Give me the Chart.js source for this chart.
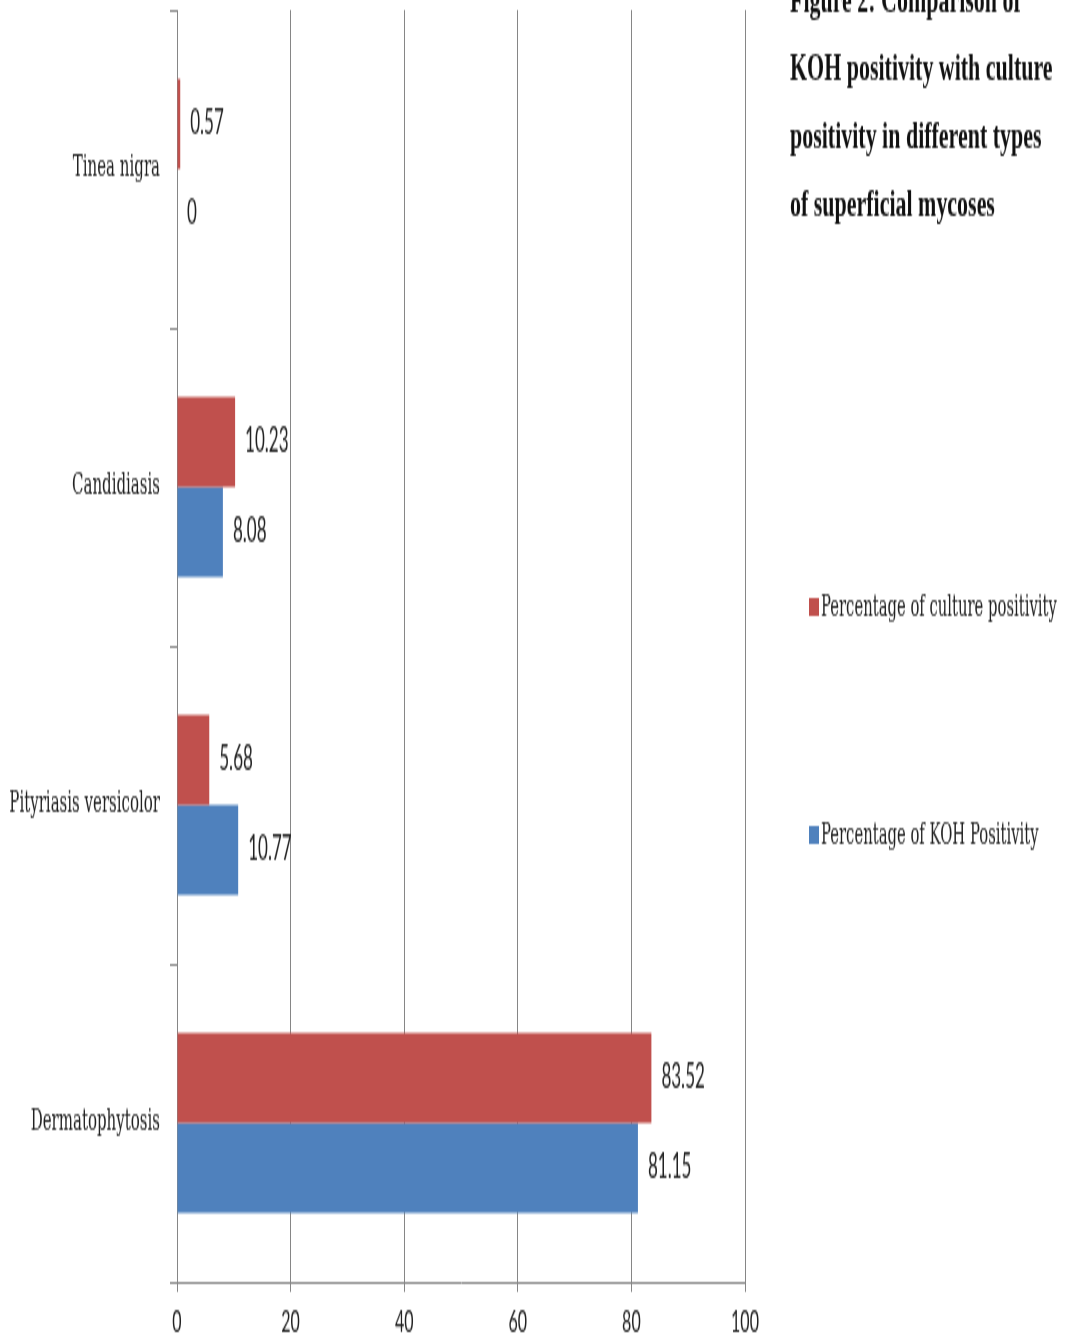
<!DOCTYPE html>
<html lang="en">
<head>
    <meta charset="UTF-8">
    <title>KOH vs culture positivity</title>
    <script src="https://cdn.jsdelivr.net/npm/chart.js"></script>
    <style>
        html, body { margin: 0; padding: 0; background: #fff; }
        body { width: 1065px; height: 1338px; }
        /* the original figure is stretched vertically, so draw at half height and scale up */
        #wrap { width: 1065px; height: 669px; transform: scaleY(2); transform-origin: 0 0; }
    </style>
</head>
<body>
    <div id="wrap"><canvas id="chart" width="1065" height="669"></canvas></div>

    <script>
        // data
        const categories = ['Tinea nigra', 'Candidiasis', 'Pityriasis versicolor', 'Dermatophytosis'];
        const culturePositivity = [0.57, 10.23, 5.68, 83.52];
        const kohPositivity = [0, 8.08, 10.77, 81.15];
        const seriesLabels = ['Percentage of culture positivity', 'Percentage of KOH Positivity'];
        const xTickValues = [0, 20, 40, 60, 80, 100];
        const titleLines = ['Figure 2: Comparison of', 'KOH positivity with culture', 'positivity in different types', 'of superficial mycoses'];

        const RED = '#C0504D';
        const BLUE = '#4F81BD';
        const GRID = '#868686';
        const SERIF = '"Liberation Serif", serif';
        const SLAB = '"DejaVu Serif", serif';
        const SANS = 'Lato, "Liberation Sans", sans-serif';

        // value labels at the end of each bar
        const valueLabels = {
            id: 'valueLabels',
            afterDatasetsDraw(chart) {
                const ctx = chart.ctx;
                ctx.save();
                ctx.font = '17px ' + SANS;
                ctx.fillStyle = '#222';
                ctx.textAlign = 'left';
                ctx.textBaseline = 'middle';
                chart.data.datasets.forEach((ds, i) => {
                    chart.getDatasetMeta(i).data.forEach((bar, j) => {
                        ctx.fillText(String(ds.data[j]), bar.x + 10, bar.y);
                    });
                });
                ctx.restore();
            }
        };

        // title block and legend on the right side
        const sidePanel = {
            id: 'sidePanel',
            afterDraw(chart) {
                const ctx = chart.ctx;
                ctx.save();
                ctx.fillStyle = '#111';
                ctx.textAlign = 'left';
                ctx.textBaseline = 'alphabetic';
                ctx.font = 'bold 18px ' + SERIF;
                titleLines.forEach((line, i) => {
                    ctx.save();
                    ctx.translate(790, 6 + i * 34);
                    ctx.scale(1.22, 1);
                    ctx.fillText(line, 0, 0);
                    ctx.restore();
                });

                const legendY = [303.5, 417.5];
                ctx.font = '14.8px ' + SLAB;
                ctx.textBaseline = 'middle';
                chart.data.datasets.forEach((ds, i) => {
                    ctx.fillStyle = ds.backgroundColor;
                    ctx.fillRect(809, legendY[i] - 4.5, 10, 9);
                    ctx.fillStyle = '#222';
                    ctx.fillText(ds.label, 821, legendY[i] + 0.5);
                });
                ctx.restore();
            }
        };

        new Chart(document.getElementById('chart'), {
            type: 'bar',
            data: {
                labels: categories,
                datasets: [
                    { label: seriesLabels[0], data: culturePositivity, backgroundColor: RED },
                    { label: seriesLabels[1], data: kohPositivity, backgroundColor: BLUE }
                ]
            },
            options: {
                indexAxis: 'y',
                responsive: false,
                animation: false,
                categoryPercentage: 0.566,
                barPercentage: 1,
                layout: { padding: { left: 0, right: 320, top: 5, bottom: 0 } },
                plugins: {
                    legend: { display: false },
                    tooltip: { enabled: false }
                },
                scales: {
                    x: {
                        type: 'linear',
                        min: 0,
                        max: 100,
                        afterBuildTicks: s => { s.ticks = xTickValues.map(v => ({ value: v })); },
                        afterFit: s => { s.height = 28; },
                        grid: { color: GRID, lineWidth: 1, tickLength: 5 },
                        border: { color: GRID, width: 1 },
                        ticks: { color: '#222', padding: 5, font: { family: SANS, size: 16 } }
                    },
                    y: {
                        afterFit: s => { s.width = 177; s.paddingTop = 0; s.paddingBottom = 0; },
                        grid: { drawOnChartArea: false, offset: true, color: GRID, tickLength: 7 },
                        border: { color: GRID, width: 1 },
                        ticks: { color: '#222', padding: 10, font: { family: SLAB, size: 15 } }
                    }
                }
            },
            plugins: [valueLabels, sidePanel]
        });
    </script>
</body>
</html>
